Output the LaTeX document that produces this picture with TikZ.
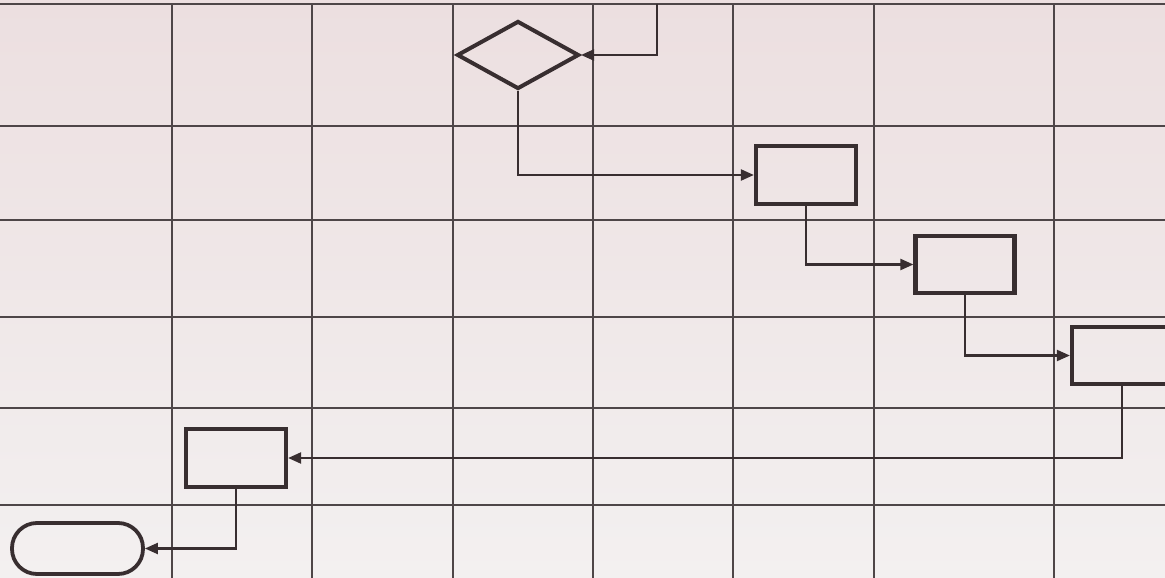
\documentclass[tikz,border=0pt]{standalone}
\usetikzlibrary{shapes.geometric,arrows.meta}
\definecolor{paperTop}{RGB}{236,223,224}
\definecolor{paperBot}{RGB}{243,240,240}
\definecolor{gridc}{RGB}{78,70,72}
\definecolor{inkc}{RGB}{56,46,48}
\tikzset{
  gridline/.style={draw=gridc, line width=1.3pt},
  procbox/.style={draw=inkc, line width=4.2pt, rectangle, inner sep=0pt},
  decbox/.style={draw=inkc, line width=4pt, diamond, inner sep=0pt},
  termbox/.style={draw=inkc, line width=3.8pt, rectangle, rounded corners=25pt, inner sep=0pt},
  flow/.style={draw=inkc, line width=2.2pt, -{Triangle[length=13pt,width=11pt]}},
}
\begin{document}
\begin{tikzpicture}[x=1pt,y=-1pt]
\useasboundingbox (0,0) rectangle (1165,578);
\clip (0,0) rectangle (1165,578);
\shade[top color=paperTop, bottom color=paperBot] (0,0) rectangle (1165,578);
% grid
\foreach \gx in {172,312,453,593,733,874,1054}
  \draw[gridline] (\gx,4) -- (\gx,578);
\foreach \gy in {4,126,220,317,408,505}
  \draw[gridline] (0,\gy) -- (1165,\gy);
% nodes
\node[decbox, minimum width=122pt, minimum height=68pt] (dec) at (518,55) {};
\node[procbox, minimum width=100pt, minimum height=58pt] (b1) at (806,175) {};
\node[procbox, minimum width=99pt, minimum height=57pt] (b2) at (965,264.5) {};
\node[procbox, minimum width=100pt, minimum height=57pt] (b3) at (1122,355.5) {};
\node[procbox, minimum width=100pt, minimum height=58pt] (b4) at (236,458) {};
\node[termbox, minimum width=131pt, minimum height=51pt] (term) at (77.5,548.5) {};
\coordinate (topin) at (657,4);
% connectors
\draw[flow] (topin) |- (dec.east);
\draw[flow] (dec.south) |- (b1.west);
\draw[flow] (b1.south) |- (b2.west);
\draw[flow] (b2.south) |- (b3.west);
\draw[flow] (b3.south) |- (b4.east);
\draw[flow] (b4.south) |- (term.east);
\end{tikzpicture}
\end{document}
